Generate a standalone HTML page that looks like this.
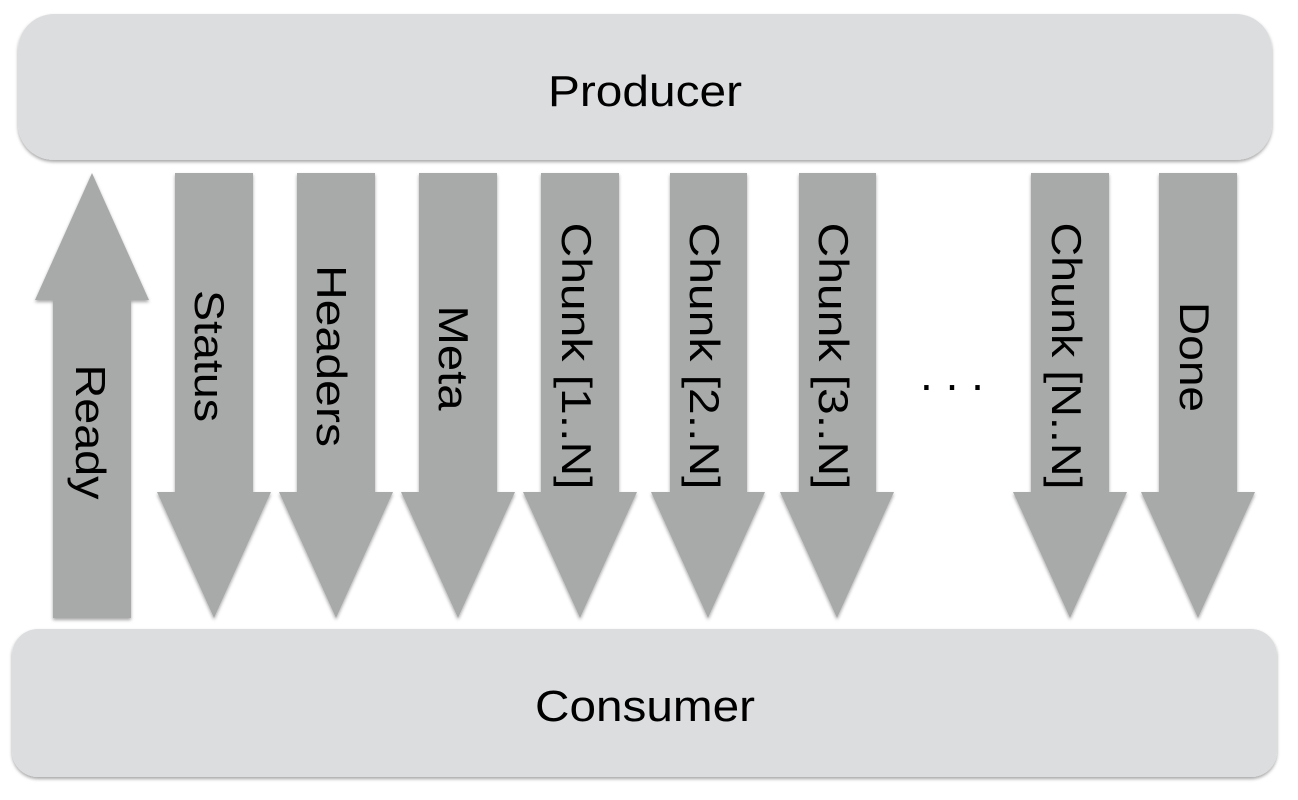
<!DOCTYPE html>
<html><head><meta charset="utf-8"><style>
html,body{margin:0;padding:0;background:#fff;}
svg{display:block;}
text{font-family:"Liberation Sans",sans-serif;fill:#000;}
</style></head><body>
<svg width="1298" height="800" viewBox="0 0 1298 800">
<defs>
<filter id="sh" x="-5%" y="-5%" width="110%" height="115%">
<feDropShadow dx="0" dy="2" stdDeviation="1.5" flood-color="#000" flood-opacity="0.35"/>
</filter>
</defs>
<rect x="18" y="14" width="1254" height="146" rx="36" fill="#dcdddf" filter="url(#sh)"/>
<rect x="12" y="629" width="1265" height="148" rx="26" fill="#dcdddf" filter="url(#sh)"/>
<text x="645" y="106" font-size="44" text-anchor="middle" textLength="194" lengthAdjust="spacingAndGlyphs">Producer</text>
<text x="645" y="721" font-size="44" text-anchor="middle" textLength="220" lengthAdjust="spacingAndGlyphs">Consumer</text>
<g fill="#a8a9a9" filter="url(#sh)">
<polygon points="92,173 149,300 131,300 131,618 53,618 53,300 35,300"/>
<polygon points="175,173 253,173 253,492 271,492 214,618 157,492 175,492"/>
<polygon points="297,173 375,173 375,492 393,492 336,618 279,492 297,492"/>
<polygon points="419,173 497,173 497,492 515,492 458,618 401,492 419,492"/>
<polygon points="541,173 619,173 619,492 637,492 580,618 523,492 541,492"/>
<polygon points="670,173 747,173 747,492 765,492 708,618 651,492 670,492"/>
<polygon points="799,173 876,173 876,492 894,492 837,618 780,492 799,492"/>
<polygon points="1031,173 1109,173 1109,492 1127,492 1070,618 1013,492 1031,492"/>
<polygon points="1159,173 1237,173 1237,492 1255,492 1198,618 1141,492 1159,492"/>
</g>
<g font-size="42" text-anchor="middle">
<text x="76" y="432" transform="rotate(90 76 432)" textLength="135" lengthAdjust="spacingAndGlyphs">Ready</text>
<text x="195" y="356" transform="rotate(90 195 356)" textLength="132" lengthAdjust="spacingAndGlyphs">Status</text>
<text x="317" y="356" transform="rotate(90 317 356)" textLength="182" lengthAdjust="spacingAndGlyphs">Headers</text>
<text x="439" y="358" transform="rotate(90 439 358)" textLength="105" lengthAdjust="spacingAndGlyphs">Meta</text>
<text x="562" y="356" transform="rotate(90 562 356)" textLength="267" lengthAdjust="spacingAndGlyphs">Chunk [1..N]</text>
<text x="690" y="356" transform="rotate(90 690 356)" textLength="267" lengthAdjust="spacingAndGlyphs">Chunk [2..N]</text>
<text x="819" y="356" transform="rotate(90 819 356)" textLength="267" lengthAdjust="spacingAndGlyphs">Chunk [3..N]</text>
<text x="1052" y="356" transform="rotate(90 1052 356)" textLength="267" lengthAdjust="spacingAndGlyphs">Chunk [N..N]</text>
<text x="1180" y="357" transform="rotate(90 1180 357)" textLength="110" lengthAdjust="spacingAndGlyphs">Done</text>
<text x="952" y="390" font-size="46">. . .</text>
</g>
</svg>
</body></html>
